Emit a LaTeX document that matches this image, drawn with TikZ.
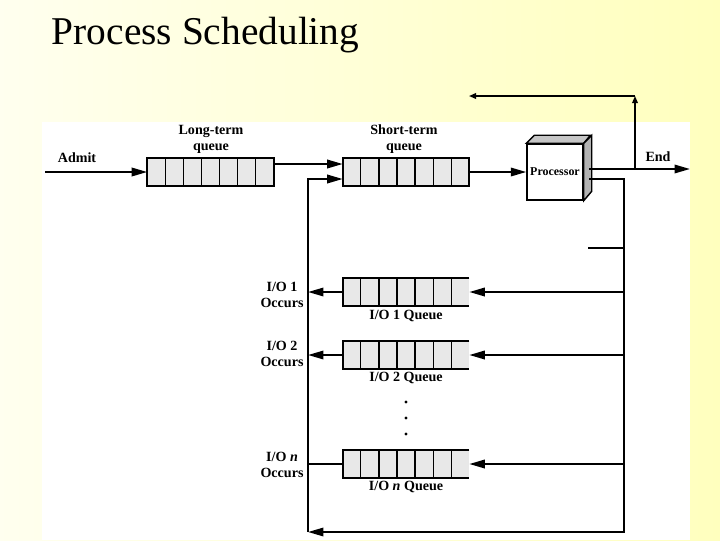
\documentclass[tikz,border=0pt]{standalone}
\usepackage{fontspec}
\setmainfont{Liberation Serif}
\usetikzlibrary{arrows.meta,positioning,calc}
\definecolor{qfill}{gray}{0.91}
\definecolor{slideyel}{RGB}{255,255,190}

\begin{document}
\begin{tikzpicture}[x=0.025cm, y=-0.025cm,
  queue/.style={fill=qfill, minimum width=3.15cm, minimum height=0.7cm, inner sep=0pt},
  lbl/.style={font=\fontsize{10}{11.5}\selectfont\bfseries, align=center, inner sep=1pt},
  flow/.style={line width=1.4pt},
  cell/.style={line width=0.9pt},
  >={Triangle[length=11pt,width=6pt]},
  small arrow/.style={line width=1.1pt, -{Triangle[length=5pt,width=4pt]}}
]
  \useasboundingbox (0,0) rectangle (720,540);
  % slide background and figure area
  \shade[left color=slideyel!25, right color=slideyel] (0,0) rectangle (720,540);
  \fill[white] (42,122) rectangle (690,540);

  \node[anchor=base west, font=\fontsize{28}{30}\selectfont] (title) at (47,44) {Process Scheduling};

  % queues
  \node[queue] (lt)  at (210.5,172) {};
  \node[queue] (st)  at (406,172) {};
  \node[queue] (io1) at (406,292) {};
  \node[queue] (io2) at (406,355) {};
  \node[queue] (ion) at (406,464) {};

  \foreach \q in {lt,st,io1,io2,ion}
    \foreach \i in {1,...,6}
      \draw[cell] ($(\q.north west)!\i/7!(\q.north east)$) -- ($(\q.south west)!\i/7!(\q.south east)$);
  \foreach \q in {lt,st}
    \draw[flow] (\q.north west) rectangle (\q.south east);
  \foreach \q in {io1,io2,ion}
    \draw[flow] (\q.north east) -- (\q.north west) -- (\q.south west) -- (\q.south east);

  \node[lbl] (ltlbl) at (211,139) {Long-term\\queue};
  \node[lbl] (stlbl) at (404,139) {Short-term\\queue};
  \node[lbl] (io1lbl) at (406,316) {I/O 1 Queue};
  \node[lbl] (io2lbl) at (406,378) {I/O 2 Queue};
  \node[lbl] (ionlbl) at (406,487) {I/O \textit{n} Queue};

  \node[lbl] (admitlbl) at (77,158) {Admit};
  \node[lbl] (endlbl)   at (658,157) {End};
  \node[lbl] (occ1) at (282,295) {I/O 1\\Occurs};
  \node[lbl] (occ2) at (282,354) {I/O 2\\Occurs};
  \node[lbl] (occn) at (282,465) {I/O \textit{n}\\Occurs};

  \foreach \y in {402,418,434}
    \fill (406,\y) circle[radius=1.2pt];

  % processor box
  \node[draw, fill=white, line width=1pt, minimum width=1.4cm, minimum height=1.4cm, inner sep=0pt,
        font=\fontsize{8.5}{9}\selectfont\bfseries] (proc) at (555,172) {Processor};
  \draw[line width=1pt, fill=gray!45] (proc.north west) -- ++(8,-8) -- ++(56,0) -- (proc.north east) -- cycle;
  \draw[line width=1pt, fill=gray!60] (proc.north east) -- ++(8,-8) -- ++(0,56) -- (proc.south east) -- cycle;

  % connectors
  \coordinate (admit) at (45,172);
  \coordinate (out1) at (589,169);
  \coordinate (out2) at (589,179);
  \coordinate (endpt) at (690,169);
  \coordinate (tsplit) at (635,169);
  \coordinate (tcorner) at (635,96);
  \coordinate (ttip) at (469,96);
  \coordinate (rtop) at (624,179);
  \coordinate (rbot) at (624,532);
  \coordinate (lbot) at (308,532);
  \coordinate (stub) at (588,248);

  \draw[flow,->] (admit) -- (lt.west);
  \draw[flow,->] ([yshift=0.2cm]lt.east) -- ([yshift=0.2cm]st.west);
  \draw[flow,->] (st.east) -- (proc.west);
  \draw[flow,->] (out1) -- (endpt);
  \draw[small arrow] (tsplit) -- (tcorner);
  \draw[small arrow] (tcorner) -- (ttip);
  \draw[flow,->] (out2) -- (rtop) -- (rbot) -- (lbot);
  \draw[flow,->] (lbot) |- ([yshift=-0.175cm]st.west);
  \draw[flow] (stub) -- (stub -| rtop);

  \draw[flow,->] (rtop |- io1.east) -- (io1.east);
  \draw[flow,->] (rtop |- io2.east) -- (io2.east);
  \draw[flow,->] (rtop |- ion.east) -- (ion.east);
  \draw[flow,->] (io1.west) -- (lbot |- io1.west);
  \draw[flow,->] (io2.west) -- (lbot |- io2.west);
  \draw[flow] (ion.west) -- (lbot |- ion.west);
\end{tikzpicture}
\end{document}
